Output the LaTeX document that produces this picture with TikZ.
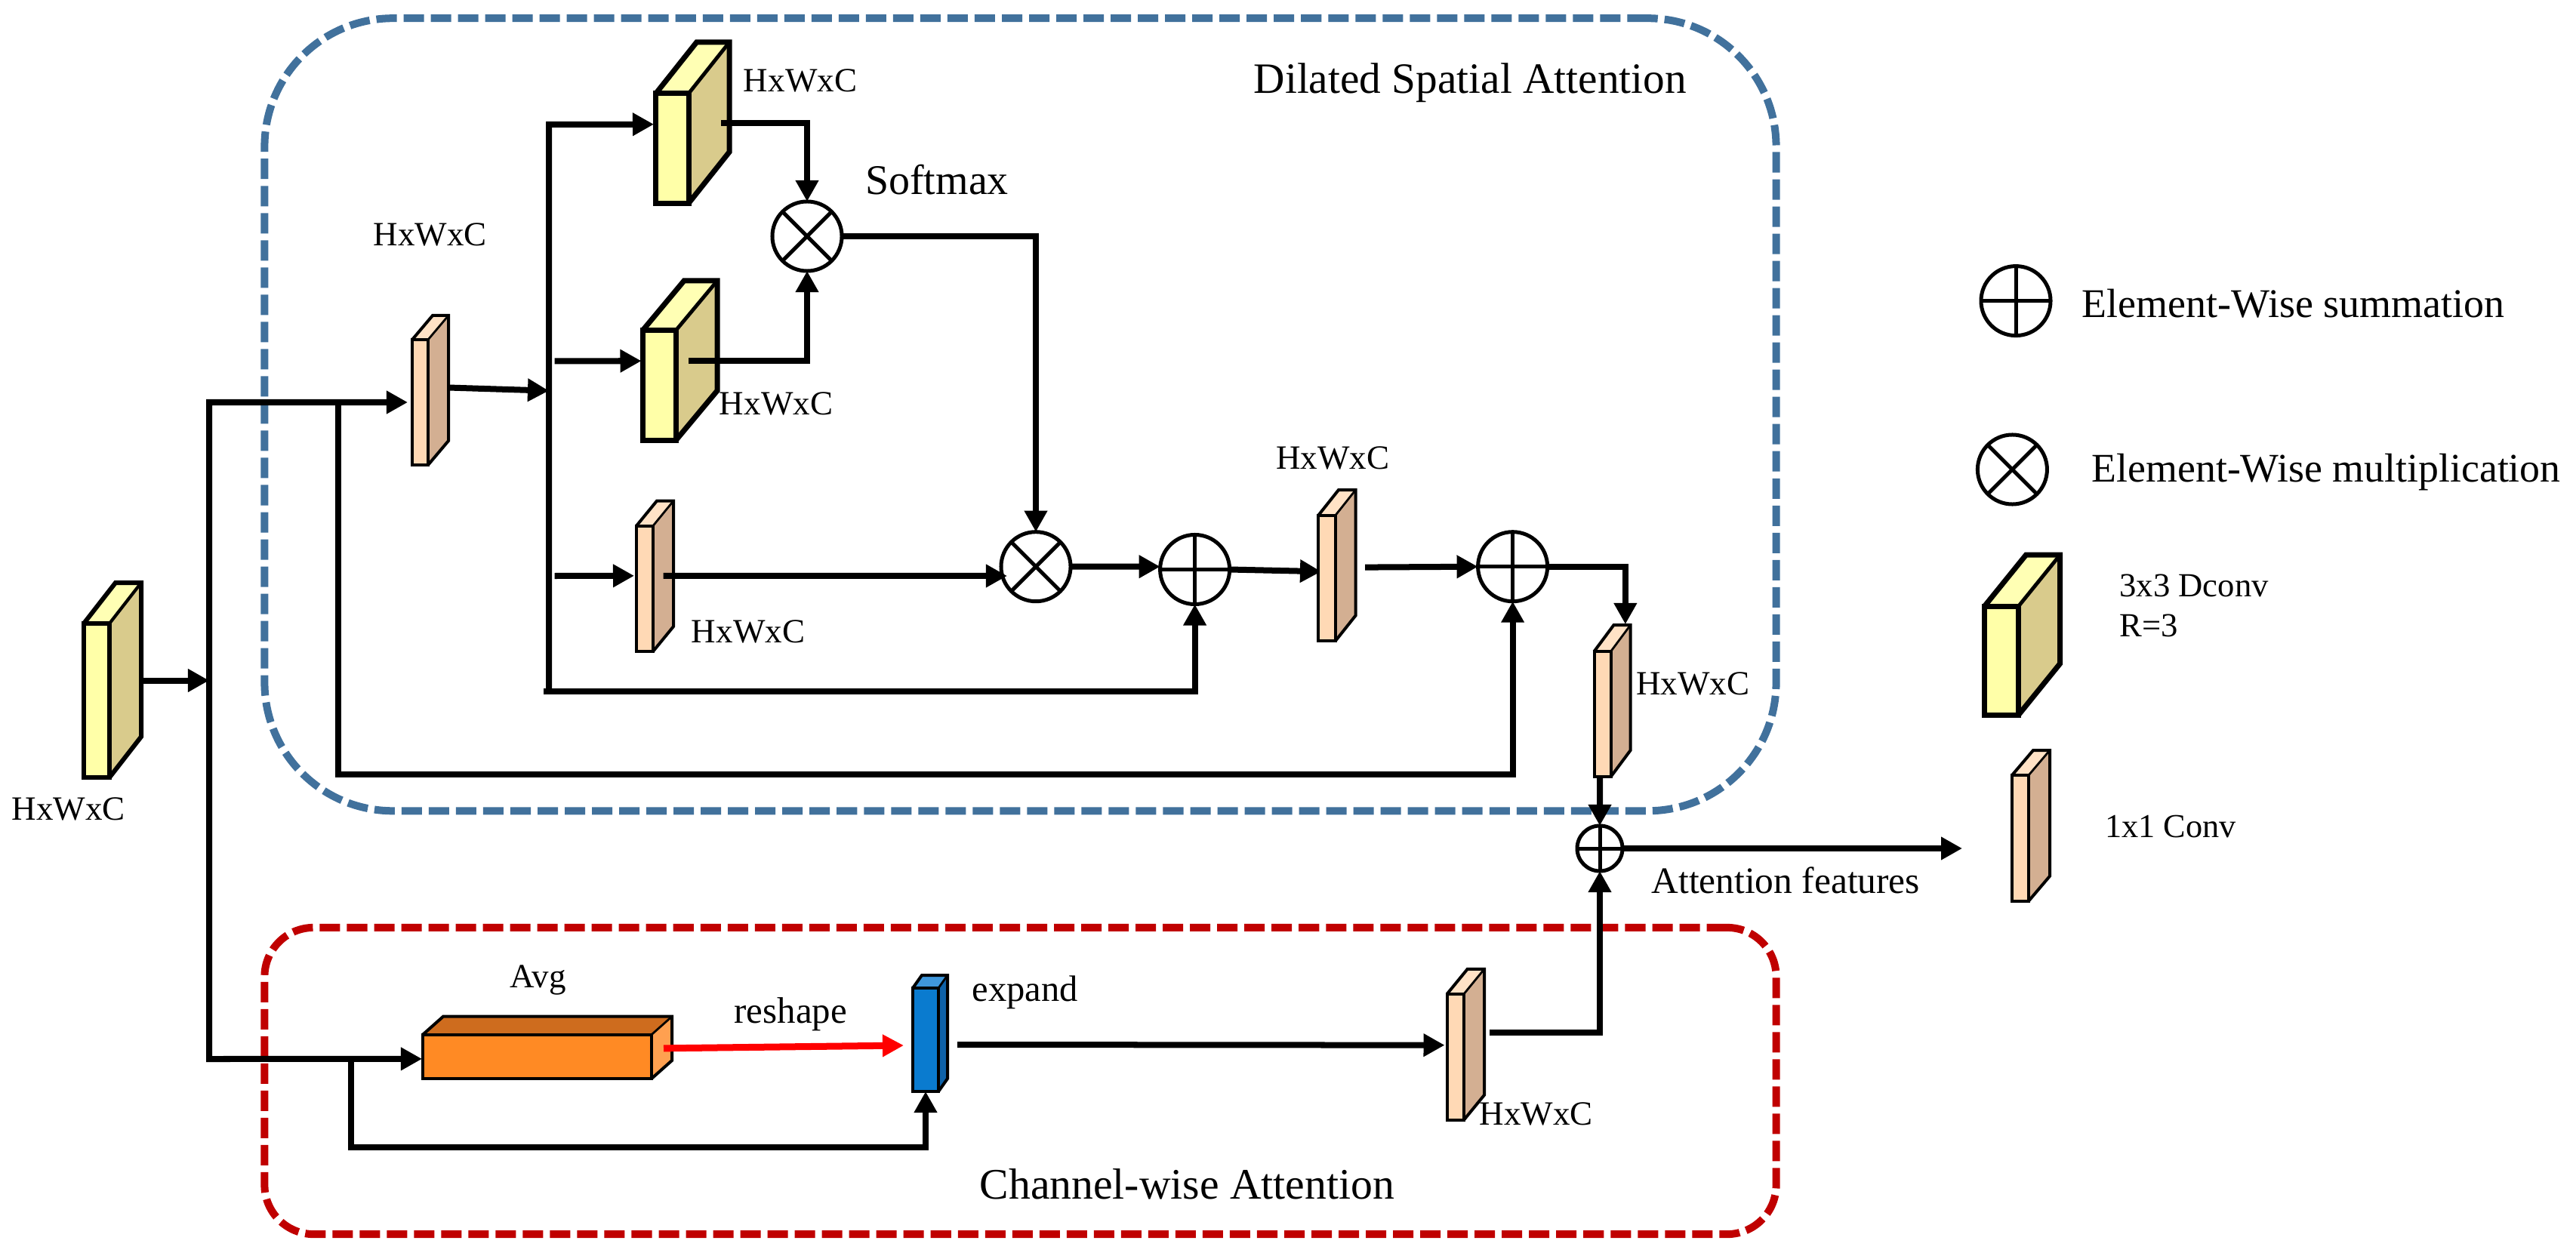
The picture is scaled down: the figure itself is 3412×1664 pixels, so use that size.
\documentclass[tikz,border=0pt]{standalone}
\usepackage{fontspec}
\setmainfont{Liberation Serif}
\usetikzlibrary{arrows.meta,backgrounds}
\definecolor{yelF}{HTML}{FFFFA8}
\definecolor{yelT}{HTML}{FFFFB4}
\definecolor{yelS}{HTML}{D9CB8C}
\definecolor{peaF}{HTML}{FFD9B5}
\definecolor{peaT}{HTML}{FFE2C6}
\definecolor{peaS}{HTML}{D3AF92}
\definecolor{oraF}{HTML}{FF8A24}
\definecolor{oraT}{HTML}{CE6C1E}
\definecolor{oraS}{HTML}{FFA050}
\definecolor{bluF}{HTML}{0A7BCF}
\definecolor{bluT}{HTML}{3F97DC}
\definecolor{bluS}{HTML}{0F62A8}
\definecolor{dsaBlue}{HTML}{41719C}
\definecolor{cwaRed}{HTML}{C00000}
% name, x0, y0, x1, y1, dx, dy, colour prefix, line width (px)
\newcommand\cuboid[9]{%
  \fill[#8T] (#2,#3) -- ({#2+#6},{#3-#7}) -- ({#4+#6},{#3-#7}) -- (#4,#3) -- cycle;
  \fill[#8S] (#4,#3) -- ({#4+#6},{#3-#7}) -- ({#4+#6},{#5-#7}) -- (#4,#5) -- cycle;
  \draw[line width=#9*0.01cm,line join=miter,miter limit=10] (#2,#3) -- ({#2+#6},{#3-#7}) -- ({#4+#6},{#3-#7}) -- ({#4+#6},{#5-#7}) -- (#4,#5);
  \draw[line width=#9*0.007cm] (#4,#3) -- ({#4+#6},{#3-#7});
  \node[draw,inner sep=0pt,outer sep=0pt,line width=#9*0.01cm,fill=#8F,
        minimum width={(#4-#2)*0.01cm},minimum height={(#5-#3)*0.01cm}] (#1) at ({(#2+#4)/2},{(#3+#5)/2}) {};%
}
\tikzset{
  x=0.01cm,y=-0.01cm,
  conn/.style={draw=black,line width=0.08cm,line join=miter,>={Triangle[length=2.8mm,width=2.9mm]}},
  redconn/.style={draw=red,line width=0.09cm,>={Triangle[length=2.8mm,width=2.8mm]}},
  opbase/.style={circle,draw=black,fill=white,line width=0.05cm,inner sep=0pt,outer sep=0pt,minimum size=#1},
  opsum/.style={opbase=#1,path picture={
     \draw[line width=0.05cm] (path picture bounding box.west) -- (path picture bounding box.east);
     \draw[line width=0.05cm] (path picture bounding box.north) -- (path picture bounding box.south);}},
  opmul/.style={opbase=#1,path picture={
     \draw[line width=0.05cm] (path picture bounding box.north west) -- (path picture bounding box.south east);
     \draw[line width=0.05cm] (path picture bounding box.north east) -- (path picture bounding box.south west);}},
  dimlab/.style={inner sep=0pt,anchor=base,font=\fontsize{12.8}{15}\selectfont},
  lab/.style={inner sep=0pt,anchor=base west,font=\fontsize{#1}{#1}\selectfont,align=left},
  groupbox/.style={draw=#1,rectangle,inner sep=0pt,outer sep=0pt,line width=0.1cm,dash pattern=on 0.27cm off 0.09cm},
}
\begin{document}
\begin{tikzpicture}
\useasboundingbox (0,0) rectangle (3412,1664);
% group frames
\begin{scope}[on background layer]
  \fill[white] (0,0) rectangle (3412,1664);
  \node[groupbox=dsaBlue,rounded corners=1.7cm,minimum width=20.01cm,minimum height=10.495cm] (dsa) at (1351.5,549.25) {};
  \node[groupbox=cwaRed,rounded corners=0.65cm,minimum width=20.01cm,minimum height=4.06cm] (cwa) at (1351.5,1432) {};
\end{scope}
% blocks
\cuboid{cA}{111}{826}{145}{1030}{42}{54}{yel}{6}
\cuboid{cB}{868.6}{124}{912}{269.4}{54}{68}{yel}{7}
\cuboid{cC}{851}{438}{895}{583.6}{55}{66}{yel}{7}
\cuboid{cD}{546}{450}{567}{616}{27}{32}{pea}{4}
\cuboid{cE}{843}{696.6}{865}{863}{27}{33}{pea}{4}
\cuboid{cF}{1746}{683}{1768.6}{849.4}{27}{34}{pea}{4}
\cuboid{cG}{2111.5}{863}{2133.6}{1029}{26}{35}{pea}{4}
\cuboid{cH}{1916.7}{1316.8}{1939}{1483.7}{27}{33}{pea}{4}
\cuboid{cAvg}{560}{1370.7}{863}{1429}{27}{24}{ora}{4}
\cuboid{cBlue}{1209}{1309}{1243}{1446}{12}{17}{blu}{4}
\cuboid{lgY}{2628.6}{803}{2673.7}{947}{55}{68}{yel}{7}
\cuboid{lgP}{2665}{1027}{2687}{1193.7}{28}{33}{pea}{4}
% operators
\node[opmul=0.92cm] (mul1) at (1069,313) {};
\node[opmul=0.92cm] (mul2) at (1372,750.7) {};
\node[opsum=0.92cm] (sum1) at (1582.6,754.5) {};
\node[opsum=0.92cm] (sum2) at (2003.6,750.7) {};
\node[opsum=0.60cm] (sum3) at (2119,1124) {};
\node[opsum=0.92cm] (lgSum) at (2670,398.6) {};
\node[opmul=0.92cm] (lgMul) at (2665.4,622) {};
% junctions
\coordinate (inJ) at (277,901.5);
\coordinate (trunkT) at (277,533);
\coordinate (trunkB) at (277,1403);
\coordinate (jA) at (447.7,533);
\coordinate (jAb) at (447.7,1026);
\coordinate (vJ) at (727,517.7);
\coordinate (vT) at (727,165);
\coordinate (vB) at (727,915.5);
\coordinate (vStub) at (720,915.5);
\coordinate (cOne) at (734.7,478.4);
\coordinate (cTwo) at (734.7,763);
\coordinate (jB) at (464.5,1403);
\coordinate (jBb) at (464.5,1520);
\coordinate (out) at (2599,1124);
% connectors
\draw[conn,->] ([shift={(39,-26.5)}]cA.east) -- (inJ);
\draw[conn,<->] ([shift={(-6,0)}]cD.west) -- (trunkT) -- (trunkB) -- ([shift={(-1,3)}]cAvg.west);
\draw[conn,->] (jA) -- (jAb) -| (sum2.south);
\draw[conn,->] ([shift={(27,-19.5)}]cD.east) -- (vJ);
\draw[conn,<-] ([shift={(-2.6,-32)}]cB.west) -- (vT) -- (vB);
\draw[conn,->] (vStub) -| (sum1.south);
\draw[conn,->] (cOne) -- ([shift={(-1.5,-32.6)}]cC.west);
\draw[conn,->] (cTwo) -- ([shift={(-3,-17)}]cE.west);
\draw[conn,->] ([shift={(13.5,-17)}]cE.east) -- ([shift={(8,12.3)}]mul2.west);
\draw[conn,->] ([shift={(43,-34)}]cB.east) -| (mul1.north);
\draw[conn,->] ([shift={(17,-32.6)}]cC.east) -| (mul1.south);
\draw[conn,->] (mul1.east) -| (mul2.north);
\draw[conn,->] (mul2.east) -- ([shift={(0,-3.8)}]sum1.west);
\begin{scope}[on background layer]
  \draw[conn,->] (sum1.east) -- ([shift={(4,-9)}]cF.west);
\end{scope}
\draw[conn,->] ([shift={(39.4,-14.6)}]cF.east) -- (sum2.west);
\draw[conn,->] (sum2.east) -| ([shift={(30.3,-36)}]cG.north);
\draw[conn,->] ([shift={(-3.5,0)}]cG.south) -- (sum3.north);
\draw[conn,->] ([shift={(34,-32.7)}]cH.east) -| (sum3.south);
\draw[conn,->] (sum3.east) -- (out);
\draw[redconn,->] ([shift={(16,-11)}]cAvg.east) -- ([shift={(-12,7.5)}]cBlue.west);
\draw[conn,->] (jB) -- (jBb) -| (cBlue.south);
\draw[conn,->] ([shift={(25,6.5)}]cBlue.east) -- ([shift={(-3.2,-15.6)}]cH.west);
% dimension labels
\node[dimlab] (tA) at (91,1086) {HxWxC};
\node[dimlab] (tB) at (1060,121.6) {HxWxC};
\node[dimlab] (tD) at (570,326) {HxWxC};
\node[dimlab] (tC) at (1028,549.5) {HxWxC};
\node[dimlab] (tE) at (991,851) {HxWxC};
\node[dimlab] (tF) at (1765,621.4) {HxWxC};
\node[dimlab] (tG) at (2242,920.7) {HxWxC};
\node[dimlab] (tH) at (2034.7,1490) {HxWxC};
% other labels
\node[lab=16.3] (tDsa) at (1660,124) {Dilated Spatial Attention};
\node[lab=16.4] (tCwa) at (1297,1588) {Channel-wise Attention};
\node[lab=15.9] (tSoft) at (1145.6,258) {Softmax};
\node[lab=12.8] (tAvg) at (675,1308) {Avg};
\node[lab=13.9] (tRes) at (972,1355) {reshape};
\node[lab=13.8] (tExp) at (1287,1326) {expand};
\node[lab=14.05] (tAtt) at (2187,1183) {Attention features};
\node[lab=15.35] (tLS) at (2757,420.5) {Element-Wise summation};
\node[lab=15.3] (tLM) at (2770,638.6) {Element-Wise multiplication};
\node[lab=12.7] (tL3) at (2806.7,790.7) {3x3 Dconv};
\node[lab=12.7] (tLR) at (2806.7,843.5) {R=3};
\node[lab=12.6] (tL1) at (2787.5,1109) {1x1 Conv};
\end{tikzpicture}
\end{document}
